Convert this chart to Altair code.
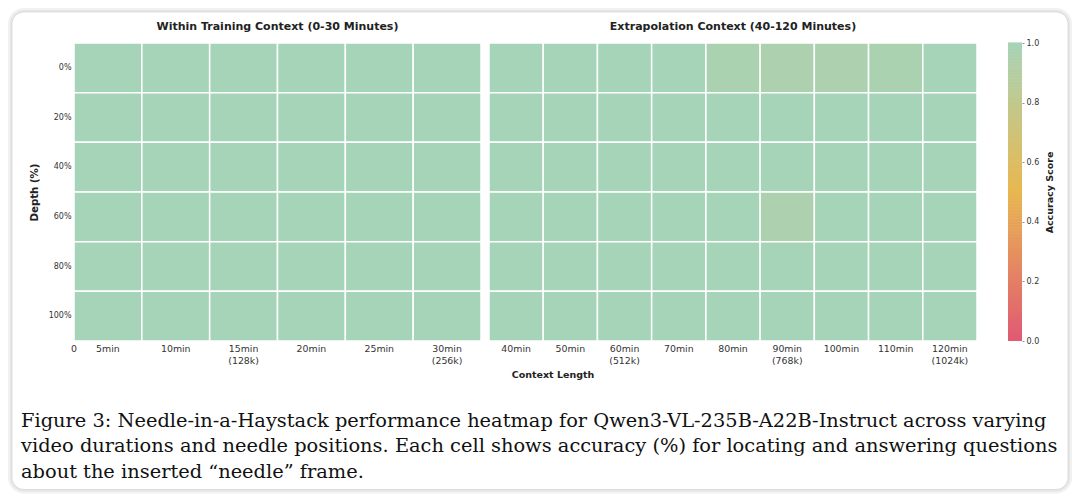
import altair as alt
import pandas as pd

# ---------------- data ----------------
depths = ["0%", "20%", "40%", "60%", "80%", "100%"]
train_cols = ["5min", "10min", "15min (128k)", "20min", "25min", "30min (256k)"]
extra_cols = ["40min", "50min", "60min (512k)", "70min", "80min",
              "90min (768k)", "100min", "110min", "120min (1024k)"]

train_acc = [
    [1.0, 1.0, 1.0, 1.0, 1.0, 1.0],
    [1.0, 1.0, 1.0, 1.0, 1.0, 1.0],
    [1.0, 1.0, 1.0, 1.0, 1.0, 1.0],
    [1.0, 1.0, 1.0, 1.0, 1.0, 1.0],
    [1.0, 1.0, 1.0, 1.0, 1.0, 1.0],
    [1.0, 1.0, 1.0, 1.0, 1.0, 1.0],
]
extra_acc = [
    [1.0, 1.0, 1.0, 1.0, 0.96, 0.95, 0.95, 0.96, 1.0],
    [1.0, 1.0, 1.0, 1.0, 1.0, 1.0, 1.0, 1.0, 1.0],
    [1.0, 1.0, 1.0, 1.0, 1.0, 1.0, 1.0, 1.0, 1.0],
    [1.0, 1.0, 1.0, 1.0, 1.0, 0.95, 1.0, 1.0, 1.0],
    [1.0, 1.0, 1.0, 1.0, 1.0, 1.0, 1.0, 1.0, 1.0],
    [1.0, 1.0, 1.0, 1.0, 1.0, 1.0, 1.0, 1.0, 1.0],
]

title_left = "Within Training Context (0-30 Minutes)"
title_right = "Extrapolation Context (40-120 Minutes)"
caption_lines = [
    "Figure 3: Needle-in-a-Haystack performance heatmap for Qwen3-VL-235B-A22B-Instruct across varying",
    "video durations and needle positions. Each cell shows accuracy (%) for locating and answering questions",
    "about the inserted \u201cneedle\u201d frame.",
]

cmap_stops = [0.0, 0.5, 1.0]
cmap_colors = ["#e05a73", "#e8b850", "#a6d4b8"]


def to_long(cols, acc):
    rows = []
    for i, d in enumerate(depths):
        for j, c in enumerate(cols):
            rows.append({"depth": d, "ctx": c, "acc": acc[i][j]})
    return pd.DataFrame(rows)


df_train = to_long(train_cols, train_acc)
df_extra = to_long(extra_cols, extra_acc)

FONT = "DejaVu Sans"
cscale = alt.Scale(domain=cmap_stops, range=cmap_colors, interpolate="rgb")

x_axis_common = dict(
    labelExpr="split(datum.label, ' ')",
    labelFont=FONT, labelFontSize=9.4, labelColor="#333",
    labelAngle=0, labelPadding=3, labelLineHeight=12,
    ticks=False, domain=False, grid=False,
)

W1, W2, W3, H = 407, 488, 37, 298

# ---------------- decorations (card + caption + panel titles) ----------------
one = pd.DataFrame({"a": [0]})
shadow_outer = alt.Chart(one).mark_rect(fill="#f1f1f1", cornerRadius=16).encode(
    x=alt.value(-66), x2=alt.value(998), y=alt.value(-35), y2=alt.value(450.5))
shadow_mid = alt.Chart(one).mark_rect(fill="#e6e6e6", cornerRadius=14).encode(
    x=alt.value(-64), x2=alt.value(996), y=alt.value(-33), y2=alt.value(448.5))
card = alt.Chart(one).mark_rect(fill="white", stroke="#d6d6d6", strokeWidth=0.8,
                                cornerRadius=12).encode(
    x=alt.value(-62), x2=alt.value(994), y=alt.value(-31), y2=alt.value(446.5))
caption = alt.Chart(one).mark_text(
    align="left", baseline="alphabetic", font="DejaVu Serif",
    fontSize=19.4, lineHeight=25.5, color="#111").encode(
    x=alt.value(-53), y=alt.value(383.5), text=alt.value(caption_lines))
zero_lbl = alt.Chart(one).mark_text(
    align="center", baseline="middle", font=FONT, fontSize=9.4, color="#333").encode(
    x=alt.value(0), y=alt.value(H + 7.8), text=alt.value("0"))


def panel_title(text, width):
    return alt.Chart(one).mark_text(
        align="center", baseline="alphabetic", font=FONT, fontSize=11,
        fontWeight="bold", color="#222").encode(
        x=alt.value(width / 2), y=alt.value(-13.5), text=alt.value(text))


# ---------------- heatmaps ----------------
heat1 = alt.Chart(df_train).mark_rect(stroke="white", strokeWidth=1.5).encode(
    x=alt.X("ctx:N", sort=train_cols, title=None,
            scale=alt.Scale(paddingInner=0, paddingOuter=0),
            axis=alt.Axis(**x_axis_common)),
    y=alt.Y("depth:N", sort=depths, title="Depth (%)",
            scale=alt.Scale(paddingInner=0, paddingOuter=0),
            axis=alt.Axis(labelFont=FONT, labelFontSize=8, labelColor="#333",
                          labelPadding=3, ticks=False, domain=False,
                          titleFont=FONT, titleFontSize=10.2, titleFontWeight="bold",
                          titleColor="#222", titlePadding=9)),
    color=alt.Color("acc:Q", scale=cscale, legend=None),
)

p1 = alt.layer(shadow_outer, shadow_mid, card, heat1, zero_lbl, caption,
               panel_title(title_left, W1)).properties(width=W1, height=H)

heat2 = alt.Chart(df_extra).mark_rect(stroke="white", strokeWidth=1.5).encode(
    x=alt.X("ctx:N", sort=extra_cols, title="Context Length",
            scale=alt.Scale(paddingInner=0, paddingOuter=0),
            axis=alt.Axis(**x_axis_common, titleFont=FONT, titleFontSize=9.5,
                          titleFontWeight="bold", titleColor="#222",
                          titleX=63.5, titleY=33, titleAlign="center",
                          titleBaseline="middle")),
    y=alt.Y("depth:N", sort=depths, axis=None,
            scale=alt.Scale(paddingInner=0, paddingOuter=0)),
    color=alt.Color("acc:Q", scale=cscale, legend=None),
)

p2 = alt.layer(heat2, panel_title(title_right, W2)).properties(width=W2, height=H)

# ---------------- colour bar ----------------
bar_band = 14
pad_outer = (W3 / bar_band - 1) / 2
cbar = alt.Chart(alt.sequence(0, 1.0, 0.01, as_="v")).transform_calculate(
    v2="datum.v + 0.012", k="'bar'"
).mark_rect(strokeWidth=0).encode(
    x=alt.X("k:N", axis=None,
            scale=alt.Scale(paddingInner=0, paddingOuter=pad_outer, align=1)),
    y=alt.Y("v:Q", scale=alt.Scale(domain=[0, 1], nice=False, zero=False),
            title="Accuracy Score",
            axis=alt.Axis(orient="right", values=[0, 0.2, 0.4, 0.6, 0.8, 1.0],
                          format=".1f", labelFont=FONT, labelFontSize=8,
                          labelColor="#333", labelPadding=2, ticks=True,
                          tickSize=2, tickColor="#777", tickWidth=0.8,
                          domain=False, grid=False,
                          titleFont=FONT, titleFontSize=9.5, titleFontWeight="bold",
                          titleColor="#222", titleAngle=270, titlePadding=16)),
    y2="v2:Q",
    color=alt.Color("v:Q", scale=cscale, legend=None),
).properties(width=W3, height=H)

chart = alt.hconcat(p1, p2, cbar, spacing=8, bounds="flush").properties(
    padding=0
).configure_view(strokeWidth=0)

chart.save("out.html", embed_options={"renderer": "svg", "actions": False})
